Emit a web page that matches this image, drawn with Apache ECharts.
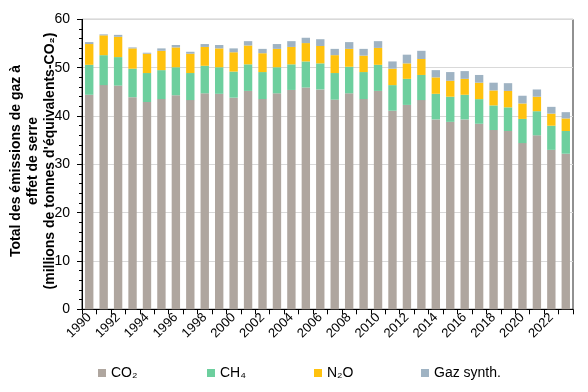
<!DOCTYPE html>
<html>
<head>
<meta charset="utf-8">
<script src="https://cdn.jsdelivr.net/npm/echarts@6/dist/echarts.min.js"></script>
<style>html,body{margin:0;padding:0;background:#fff}#c{width:588px;height:392px}</style>
</head>
<body>
<div id="c"></div>
<script>
const years = ['1990','1991','1992','1993','1994','1995','1996','1997','1998','1999','2000','2001','2002','2003','2004','2005','2006','2007','2008','2009','2010','2011','2012','2013','2014','2015','2016','2017','2018','2019','2020','2021','2022','2023'];
const co2 = [44.4,46.4,46.3,43.9,42.9,43.5,44.3,43.3,44.7,44.6,43.8,45.2,43.5,44.7,45.4,45.9,45.5,43.4,44.7,43.5,45.2,41.1,42.3,43.3,39.3,38.8,39.3,38.4,37.1,36.9,34.4,36.0,33.0,32.2];
const ch4 = [6.2,6.2,5.9,5.9,6.0,6.0,5.8,5.6,5.7,5.5,5.4,5.5,5.6,5.4,5.3,5.4,5.4,5.5,5.5,5.6,5.4,5.3,5.4,5.2,5.3,5.2,5.1,5.1,5.1,4.9,5.0,5.0,5.0,4.7];
const n2o = [4.3,4.1,4.2,4.2,4.0,4.0,4.1,4.0,3.9,3.9,4.0,3.9,3.9,3.8,3.6,3.8,3.6,3.7,3.7,3.4,3.5,3.4,3.2,3.3,3.4,3.3,3.3,3.4,3.1,3.4,3.2,3.0,2.5,2.6];
const synth = [0.4,0.2,0.4,0.2,0.2,0.5,0.5,0.4,0.6,0.7,0.8,0.9,0.9,1.0,1.2,1.1,1.4,1.3,1.4,1.4,1.4,1.5,1.8,1.7,1.5,1.8,1.6,1.6,1.6,1.6,1.6,1.5,1.4,1.3];
const seriesNames = ['CO₂','CH₄','N₂O','Gaz synth.'];
const yTitleLines = ['Total des émissions de gaz à', 'effet de serre', '(millions de tonnes d\'équivalents-CO₂)'];

const colors = ['#AFA69F','#6DCF9E','#FFC20E','#9FB3C3'];
const dataSets = [co2, ch4, n2o, synth];
const font = '"Liberation Sans", Arial, sans-serif';
const legendLefts = [98, 207, 314, 421];
const titleX = [16, 33, 50];

const chart = echarts.init(document.getElementById('c'), null, {renderer:'canvas'});
chart.setOption({
  animation: false,
  color: colors,
  textStyle: {fontFamily: font},
  grid: {left: 82, right: 15, top: 19.4, bottom: 82.7, containLabel: false, outerBoundsMode: 'none',
         show: true, borderColor: '#222', borderWidth: 1, backgroundColor: 'transparent'},
  legend: seriesNames.map((n, i) => ({
    left: legendLefts[i], top: 366, padding: 0, itemWidth: 8, itemHeight: 8, icon: 'rect', itemGap: 0,
    itemStyle: {borderWidth: 0},
    textStyle: {fontFamily: font, fontSize: 14, color: '#000'},
    data: [n]
  })),
  graphic: yTitleLines.map((t, i) => ({
    type: 'text', x: titleX[i], y: 161, rotation: Math.PI / 2,
    style: {text: t, font: 'bold 14px "Liberation Sans", Arial, sans-serif', fill: '#000',
            align: 'center', verticalAlign: 'middle', textAlign: 'center', textVerticalAlign: 'middle'}
  })),
  xAxis: [{
    type: 'category', data: years,
    axisLine: {lineStyle: {color: '#000', width: 1}},
    axisTick: {show: true, interval: 0, length: 5, lineStyle: {color: '#000'}},
    axisLabel: {interval: 1, rotate: 45, fontSize: 13, color: '#000', fontFamily: font, margin: 6},
    splitLine: {show: false}
  }],
  yAxis: [{
    type: 'value', min: 0, max: 60, interval: 10,
    axisLine: {show: true, lineStyle: {color: '#000', width: 1}},
    axisTick: {show: true, length: 5, lineStyle: {color: '#000'}},
    minorTick: {show: true, splitNumber: 5, length: 3, lineStyle: {color: '#000'}},
    axisLabel: {fontSize: 14, color: '#000', fontFamily: font, margin: 12},
    splitLine: {show: true, lineStyle: {color: '#d9d9d9', width: 1}}
  }],
  series: dataSets.map((d, i) => ({
    name: seriesNames[i], type: 'bar', stack: 'total', data: d,
    barCategoryGap: '42%',
    itemStyle: {color: colors[i]}
  }))
});
</script>
</body>
</html>
